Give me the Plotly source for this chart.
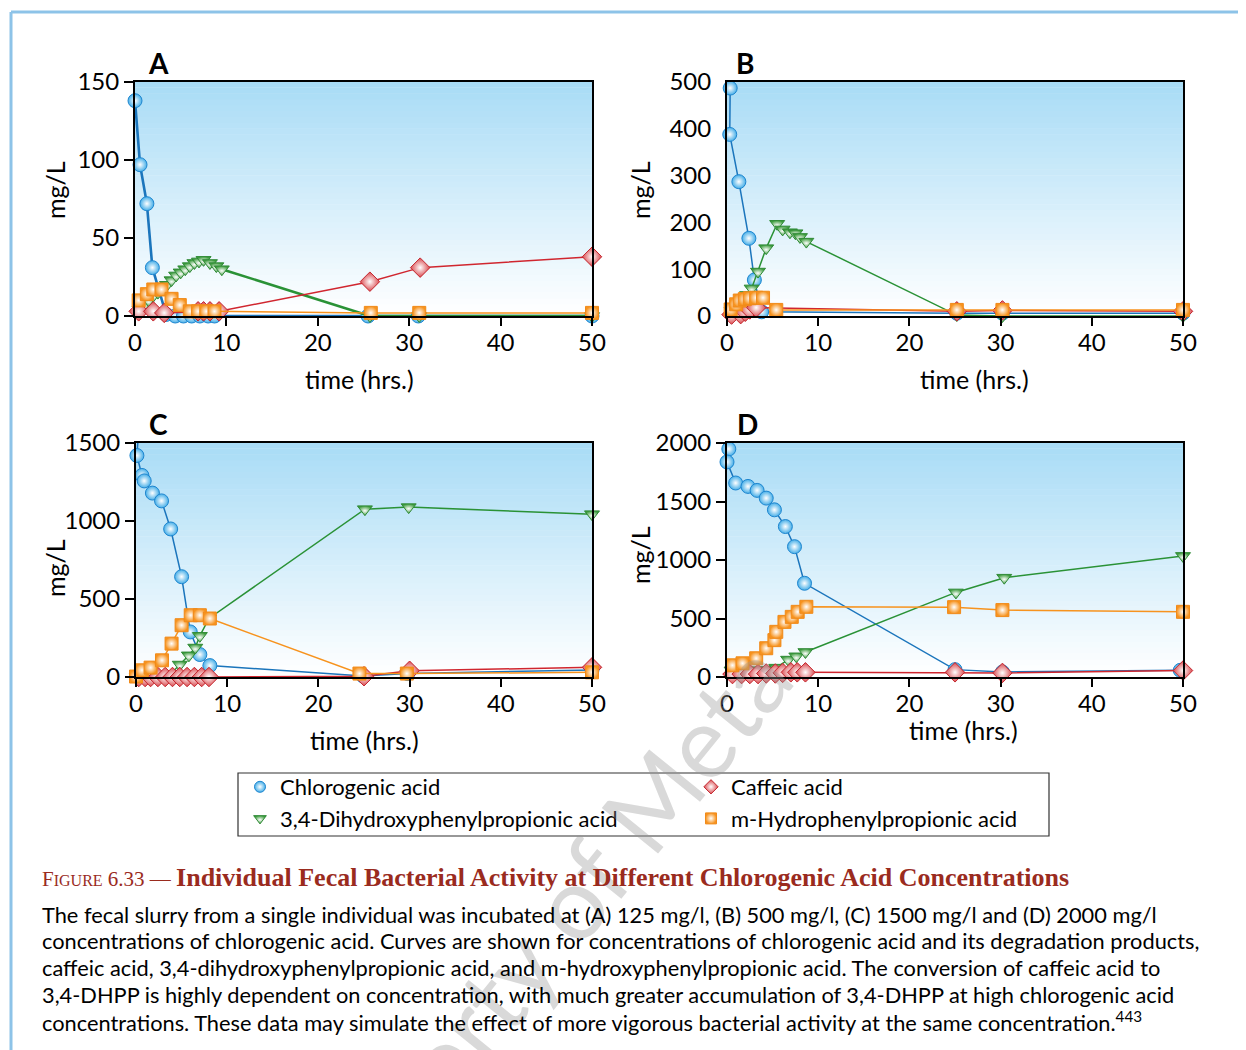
import plotly.graph_objects as go

W, H = 1246, 1050
PAGE_OFF = 8  # browser default body margin

# ---------------- DATA ----------------
# Panel A (125 mg/l)
A_chl_t = [0, 0.55, 1.3, 1.9, 3.4, 4.4, 5.3, 6.2, 7.1, 8.0, 8.7, 25.5, 31, 50]
A_chl_v = [138, 97, 72, 31, 1, 0, 0, 0, 0, 0, 0, 0, 0, 0]
A_dhpp_t = [0.5, 1.0, 1.5, 2.0, 2.5, 3.0, 3.5, 4.0, 4.5, 5.0, 5.5, 6.0, 6.5, 7.0, 7.5, 8.2, 8.9, 9.5, 25.7, 31.1, 50]
A_dhpp_v = [4, 7, 10, 13, 15, 17, 20, 23, 26, 28, 30, 32, 34, 35, 36, 34, 32, 30, 0, 0, 0]
A_caf_t = [0.4, 2.0, 3.2, 6.9, 7.5, 8.2, 9.2, 25.7, 31.2, 50]
A_caf_v = [3, 3, 2, 3, 3, 3, 3, 22, 31, 38]
A_mhpp_t = [0.4, 1.3, 2.0, 2.9, 4.0, 4.9, 6.0, 6.9, 7.8, 8.7, 25.8, 31.1, 50]
A_mhpp_v = [10, 14, 17, 17, 11, 7, 3, 3, 3, 3, 2, 2, 2]

# Panel B (500 mg/l)
B_chl_t = [0.35, 0.3, 1.3, 2.4, 3.0, 3.8, 25.2, 30.2, 50]
B_chl_v = [487, 388, 287, 166, 77, 9, 6, 6, 6]
B_dhpp_t = [0.5, 1.0, 1.6, 2.2, 2.7, 3.4, 4.3, 5.5, 6.1, 6.9, 7.5, 8.0, 8.7, 25.2, 30.2, 50]
B_dhpp_v = [11, 20, 34, 45, 59, 95, 145, 197, 185, 179, 177, 169, 159, 2, 0, 0]
B_caf_t = [0.5, 1.5, 2.0, 2.5, 3.2, 25.2, 30.2, 50]
B_caf_v = [3, 4, 9, 14, 18, 10, 12, 10]
B_mhpp_t = [0.4, 1.0, 1.4, 1.95, 2.5, 3.2, 3.95, 5.4, 25.2, 30.2, 50]
B_mhpp_v = [14, 25, 33, 36, 38, 39, 39, 13, 13, 13, 13]

# Panel C (1500 mg/l)
C_chl_t = [0.2, 0.1, 0.65, 0.9, 1.8, 2.8, 3.8, 5.0, 5.95, 7.0, 8.1, 24.9, 29.8, 50]
C_chl_v = [1504, 1420, 1292, 1257, 1179, 1129, 949, 643, 289, 144, 73, 6, 22, 45]
C_dhpp_t = [0.1, 1.3, 2.4, 3.5, 4.8, 5.8, 6.5, 7.0, 8.0, 25.1, 29.9, 50]
C_dhpp_v = [0, 0, 0, 0, 80, 139, 189, 264, 375, 1076, 1089, 1044]
C_caf_t = [0.3, 1.0, 1.6, 2.4, 3.2, 4.0, 4.8, 5.6, 6.4, 7.2, 8.0, 25, 30, 50]
C_caf_v = [0, 0, 0, 0, 0, 0, 0, 0, 0, 0, 0, 5, 40, 62]
C_mhpp_t = [0, 0.65, 1.6, 2.85, 3.9, 5.0, 6.0, 7.0, 8.1, 24.5, 29.7, 50]
C_mhpp_v = [3, 43, 60, 107, 214, 332, 396, 396, 375, 22, 22, 30]

# Panel D (2000 mg/l)
D_chl_t = [0.2, 0, 0.95, 2.3, 3.3, 4.3, 5.2, 6.4, 7.4, 8.5, 25, 30.2, 49.7]
D_chl_v = [1949, 1838, 1658, 1629, 1595, 1529, 1429, 1286, 1114, 801, 63, 43, 57]
D_dhpp_t = [0.5, 1.6, 2.5, 3.5, 4.5, 5.4, 6.7, 7.6, 8.6, 25.1, 30.4, 50]
D_dhpp_v = [57, 57, 57, 57, 60, 80, 149, 177, 214, 723, 849, 1035]
D_caf_t = [0.6, 1.6, 2.5, 3.4, 4.3, 5.3, 6.1, 7.0, 7.7, 8.6, 25, 30.2, 50]
D_caf_v = [25, 25, 25, 25, 30, 30, 35, 40, 40, 40, 40, 35, 55]
D_mhpp_t = [0.6, 1.7, 3.2, 4.3, 5.2, 5.4, 6.3, 7.1, 7.75, 8.7, 24.9, 30.2, 50]
D_mhpp_v = [100, 117, 160, 246, 315, 386, 471, 514, 557, 600, 597, 572, 557]

series_names = ["Chlorogenic acid", "Caffeic acid", "3,4-Dihydroxyphenylpropionic acid", "m-Hydrophenylpropionic acid"]
x_ticks = [0, 10, 20, 30, 40, 50]
A_yticks = [0, 50, 100, 150]
B_yticks = [0, 100, 200, 300, 400, 500]
B_tickmarks = [0, 500 / 3, 1000 / 3, 500]   # tick marks in the original do not sit at the labels
C_yticks = [0, 500, 1000, 1500]
D_yticks = [0, 500, 1000, 1500, 2000]

# ---------------- STYLE ----------------
FONT = "Lato"
STY = {
    "chl": dict(color="#1b75bc", symbol="circle", size=14, mcolor="#45aee8", mline="#1f86cf"),
    "caf": dict(color="#d0262f", symbol="diamond", size=15, mcolor="#d9474c", mline="#c4262e"),
    "dhpp": dict(color="#2a9236", symbol="triangle-down", size=13, mcolor="#3d9c3d", mline="#2f8a36"),
    "mhpp": dict(color="#f7931e", symbol="square", size=13, mcolor="#f7931e", mline="#f08a1a"),
}


def px_x(x):
    return (x - PAGE_OFF) / W


def px_y(y):
    return 1 - (y - PAGE_OFF) / H


panels = [
    ("A", "x", "y", (135, 592), (82, 316), [0, 150], A_yticks,
     dict(chl=(A_chl_t, A_chl_v), dhpp=(A_dhpp_t, A_dhpp_v), caf=(A_caf_t, A_caf_v), mhpp=(A_mhpp_t, A_mhpp_v)), True),
    ("B", "x2", "y2", (727, 1183), (82, 316), [0, 500], B_yticks,
     dict(chl=(B_chl_t, B_chl_v), dhpp=(B_dhpp_t, B_dhpp_v), caf=(B_caf_t, B_caf_v), mhpp=(B_mhpp_t, B_mhpp_v)), False),
    ("C", "x3", "y3", (136, 592), (443, 677), [0, 1500], C_yticks,
     dict(chl=(C_chl_t, C_chl_v), dhpp=(C_dhpp_t, C_dhpp_v), caf=(C_caf_t, C_caf_v), mhpp=(C_mhpp_t, C_mhpp_v)), False),
    ("D", "x4", "y4", (727, 1183), (443, 677), [0, 2000], D_yticks,
     dict(chl=(D_chl_t, D_chl_v), dhpp=(D_dhpp_t, D_dhpp_v), caf=(D_caf_t, D_caf_v), mhpp=(D_mhpp_t, D_mhpp_v)), False),
]

fig = go.Figure()
shapes = []
annotations = []
layout_axes = {}

N_BANDS = 40
top_rgb = (169, 220, 246)
bot_rgb = (255, 255, 255)

for key, xa, ya, xdom, ydom, yrange, yticks, data, thick in panels:
    xname = "xaxis" + xa[1:]
    yname = "yaxis" + ya[1:]
    layout_axes[xname] = dict(
        domain=[px_x(xdom[0]), px_x(xdom[1])], anchor=ya, range=[0, 50],
        tickvals=x_ticks, ticks="outside", ticklen=8, tickwidth=2, tickcolor="black",
        showline=True, mirror=True, linewidth=2, linecolor="black", automargin=False,
        showgrid=False, zeroline=False, ticklabelstandoff=-4,
        tickfont=dict(family=FONT, size=24, color="black"),
    )
    layout_axes[yname] = dict(
        domain=[px_y(ydom[1]), px_y(ydom[0])], anchor=xa, range=yrange,
        tickvals=yticks, ticks="outside", ticklen=9, tickwidth=2,
        tickcolor="rgba(0,0,0,0)" if key == "B" else "black",
        showline=True, mirror=True, linewidth=2, linecolor="black", automargin=False,
        showgrid=False, zeroline=False,
        tickfont=dict(family=FONT, size=24, color="black"),
    )
    for i in range(N_BANDS):
        f = i / (N_BANDS - 1)
        c = tuple(round(bot_rgb[k] + (top_rgb[k] - bot_rgb[k]) * f) for k in range(3))
        shapes.append(dict(
            type="rect", xref=xa + " domain", yref=ya + " domain",
            x0=0, x1=1, y0=i / N_BANDS, y1=(i + 1) / N_BANDS + 0.002,
            fillcolor="rgb(%d,%d,%d)" % c, line=dict(width=0), layer="below",
        ))
    for sk in ["chl", "dhpp", "caf", "mhpp"]:
        s = STY[sk]
        t, v = data[sk]
        lw = 1.5
        if thick and sk in ("chl", "dhpp"):
            lw = 2.6
        fig.add_trace(go.Scatter(
            x=t, y=v, mode="lines+markers", xaxis=xa, yaxis=ya, showlegend=False,
            cliponaxis=False,
            line=dict(color=s["color"], width=lw),
            marker=dict(symbol=s["symbol"], size=s["size"], color=s["mcolor"],
                        gradient=dict(type="radial", color="white"),
                        line=dict(color=s["mline"], width=1)),
            hoverinfo="skip",
        ))

# panel B: tick marks as in the original (separate from labels)
layout_axes["yaxis5"] = dict(
    overlaying="y2", anchor="x2", side="left", range=[0, 500], tickvals=B_tickmarks,
    ticks="outside", ticklen=9, tickwidth=2, tickcolor="black", showticklabels=False,
    showline=False, showgrid=False, zeroline=False, automargin=False,
)

# legend-only entries
leg_keys = ["chl", "caf", "dhpp", "mhpp"]
for rank, (sk, name) in enumerate(zip(leg_keys, series_names)):
    s = STY[sk]
    fig.add_trace(go.Scatter(
        x=[None], y=[None], mode="markers", name=name, legendrank=rank + 1,
        marker=dict(symbol=s["symbol"], size=11, color=s["mcolor"],
                    gradient=dict(type="radial", color="white"),
                    line=dict(color=s["mline"], width=1)),
    ))


def add_text(text, x, y, size, family=FONT, color="black", angle=0, xanchor="center"):
    annotations.append(dict(text=text, x=px_x(x), y=px_y(y), xref="paper", yref="paper",
                            xanchor=xanchor, yanchor="middle", showarrow=False, textangle=angle,
                            font=dict(family=family, size=size, color=color)))


# watermark (drawn first so other texts sit on top)
add_text("Property of Meta", 529, 951, 101, color="rgba(150,150,150,0.36)", angle=-51)

for txt, x, y in [("A", 158, 63), ("B", 745, 63), ("C", 158, 424), ("D", 747, 424)]:
    add_text("<b>%s</b>" % txt, x, y, 28)
for x, y in [(55, 190), (640, 190), (55, 568), (640, 555)]:
    add_text("mg/L", x, y, 25, angle=-90)
for x, y in [(359, 379), (974, 379), (364, 740), (963, 730)]:
    add_text("time (hrs.)", x, y, 25)

# caption
title_html = ('<span style="font-size:21px">F</span><span style="font-size:16px">IGURE</span>'
              '<span style="font-size:21px"> 6.33 — </span><b>Individual Fecal Bacterial Activity at Different '
              'Chlorogenic Acid Concentrations</b>')
add_text(title_html, 40, 877, 26, family="Liberation Serif", color="#9a2b1e", xanchor="left")
body = [
    "The fecal slurry from a single individual was incubated at (A) 125 mg/l, (B) 500 mg/l, (C) 1500 mg/l and (D) 2000 mg/l",
    "concentrations of chlorogenic acid. Curves are shown for concentrations of chlorogenic acid and its degradation products,",
    "caffeic acid, 3,4-dihydroxyphenylpropionic acid, and m-hydroxyphenylpropionic acid. The conversion of caffeic acid to",
    "3,4-DHPP is highly dependent on concentration, with much greater accumulation of 3,4-DHPP at high chlorogenic acid",
    "concentrations. These data may simulate the effect of more vigorous bacterial activity at the same concentration.<sup>443</sup>",
]
for i, line in enumerate(body):
    add_text(line, 40, 914 + i * 26.8, 21.8, xanchor="left")

# legend box
shapes.append(dict(type="rect", xref="paper", yref="paper", x0=px_x(238), x1=px_x(1049),
                   y0=px_y(836), y1=px_y(773), line=dict(color="#333333", width=1.2)))

# page frame lines (light blue)
shapes.append(dict(type="line", xref="paper", yref="paper", x0=px_x(11), x1=1.0, y0=px_y(12), y1=px_y(12),
                   line=dict(color="#8dc3e8", width=3)))
shapes.append(dict(type="line", xref="paper", yref="paper", x0=px_x(11), x1=px_x(11), y0=px_y(12), y1=0,
                   line=dict(color="#8dc3e8", width=3)))

fig.update_layout(
    width=W, height=H, margin=dict(l=0, r=0, t=0, b=0, autoexpand=False),
    paper_bgcolor="white", plot_bgcolor="white",
    shapes=shapes, annotations=annotations,
    showlegend=True,
    legend=dict(x=px_x(240), y=px_y(766), xanchor="left", yanchor="top", orientation="h",
                entrywidth=406, entrywidthmode="pixels",
                borderwidth=0, bgcolor="rgba(0,0,0,0)",
                font=dict(family=FONT, size=22, color="black"), traceorder="normal",
                itemsizing="trace"),
    font=dict(family=FONT),
    **layout_axes,
)

fig.write_html("out.html")
